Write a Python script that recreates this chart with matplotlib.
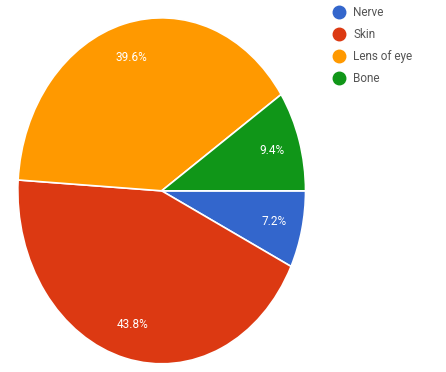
import matplotlib.pyplot as plt
from matplotlib.lines import Line2D

plt.rcParams['font.family'] = ['Roboto', 'DejaVu Sans']

labels = ['Nerve', 'Skin', 'Lens of eye', 'Bone']
shares = [7.2, 43.8, 39.6, 9.4]
colors = ['#3366cc', '#dc3912', '#ff9900', '#109618']

fig = plt.figure(figsize=(4.46, 3.72), dpi=100)
# pie is drawn a bit taller than wide
ax = fig.add_axes([0.04, 0.022, 0.645, 0.93])
wedges, texts, autotexts = ax.pie(
    shares, colors=colors, startangle=0, counterclock=False,
    autopct='%.1f%%', pctdistance=0.8,
    wedgeprops=dict(edgecolor='white', linewidth=1.2),
    textprops=dict(color='white', fontsize=8.5))
ax.set_aspect('auto')
ax.set_xlim(-1, 1)
ax.set_ylim(-1, 1)

handles = [Line2D([], [], marker='o', linestyle='none', markersize=9,
                  markerfacecolor=c, markeredgecolor=c) for c in colors]
fig.legend(handles, labels, loc='upper left', bbox_to_anchor=(0.715, 1.005),
           frameon=False, fontsize=8.5, labelcolor='#555555',
           handletextpad=0.2, labelspacing=0.75, borderaxespad=0.3)

fig.savefig('out.png', dpi=100)
